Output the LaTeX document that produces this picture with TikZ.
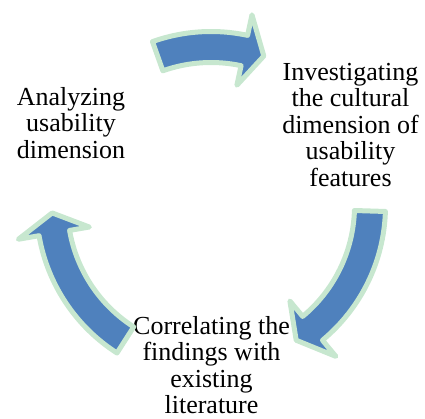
\documentclass[tikz,border=0pt]{standalone}
\usepackage{fontspec}
\setmainfont{Liberation Serif}
\definecolor{cycblue}{RGB}{79,129,189}
\definecolor{cycrim}{RGB}{199,231,207}
\begin{document}
\begin{tikzpicture}[x=1pt,y=1pt,
    stage/.style={font=\fontsize{26}{26.5}\selectfont,align=center,inner sep=0pt},
    cycarrow/.style={fill=cycblue,draw=cycrim,line width=5pt,line join=round}]
  \useasboundingbox (0,0) rectangle (425,-419);
  % stages
  \node[stage] (analyze) at (71,-123) {Analyzing\\usability\\dimension};
  \node[stage] (investigate) at (350.5,-125) {Investigating\\the cultural\\dimension of\\usability\\features};
  \node[stage] (correlate) at (211.5,-365) {Correlating the\\findings with\\existing\\literature};
  % curved arrows on the cycle (tail angle / tip angle)
  \begin{scope}[shift={(211,-206)}]
    \foreach \ta/\tb in {109.6/70.6, -1.8/-57.6, 237.4/182.5}{
      \pgfmathsetmacro\hb{\tb+7.3}
      \filldraw[cycarrow] (\ta:174.5) arc[start angle=\ta,end angle=\hb,radius=174.5]
        -- (\hb:195.5) -- (\tb:159) -- (\hb:123.5)
        -- (\hb:143.5) arc[start angle=\hb,end angle=\ta,radius=143.5] -- cycle;
    }
  \end{scope}
\end{tikzpicture}
\end{document}
